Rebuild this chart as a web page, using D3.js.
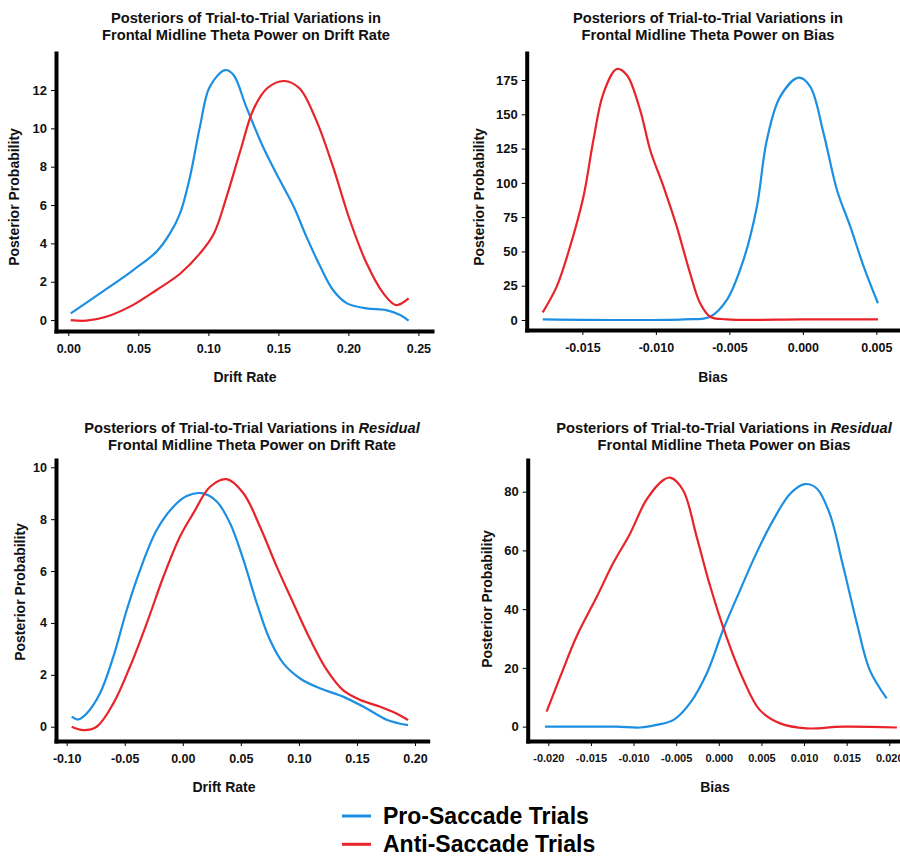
<!DOCTYPE html>
<html>
<head>
<meta charset="utf-8">
<script src="https://cdn.jsdelivr.net/npm/d3@7"></script>
<style>
  body { margin: 0; background: #fff; }
  svg { display: block; font-family: "Liberation Sans", Arial, sans-serif; }
  .axis path, .axis line { stroke: #000; }
  .axis text { font-weight: bold; fill: #111; }
</style>
</head>
<body>
<div id="chart"></div>
<script>
// legend categories
var seriesNames = ["Pro-Saccade Trials", "Anti-Saccade Trials"];
var seriesColors = ["#1c8fe2", "#e8232a"];

// posterior densities: [value, density]
var driftPro = [[0.0017,0.35],[0.0226,1.39],[0.0464,2.61],[0.063,3.57],[0.0726,4.52],[0.0798,5.57],[0.0869,7.48],[0.094,10.09],[0.101,12.17],[0.112,13.04],[0.118,12.78],[0.127,11.13],[0.139,9.04],[0.151,7.30],[0.161,5.91],[0.170,4.35],[0.180,2.78],[0.189,1.57],[0.199,0.87],[0.213,0.61],[0.227,0.52],[0.237,0.26],[0.243,-0.03]];
var driftAnti = [[0.0017,0.0],[0.013,-0.03],[0.027,0.17],[0.046,0.78],[0.063,1.57],[0.080,2.43],[0.094,3.48],[0.104,4.52],[0.113,6.43],[0.123,8.87],[0.132,10.96],[0.142,12.09],[0.154,12.47],[0.165,12.09],[0.177,10.43],[0.189,8.0],[0.201,5.22],[0.213,2.96],[0.225,1.39],[0.234,0.78],[0.243,1.13]];

var biasPro = [[-0.0177,0.5],[-0.0081,0.5],[-0.0063,2.4],[-0.00517,14.6],[-0.00404,43.8],[-0.00313,82.6],[-0.00245,131.3],[-0.00154,162.9],[-0.00029,176.7],[0.0005,170.2],[0.00141,136.1],[0.00232,94.8],[0.00323,68.1],[0.00414,38.9],[0.00511,12.2]];
var biasAnti = [[-0.0177,5.6],[-0.01675,24.3],[-0.01584,53.5],[-0.01493,89.9],[-0.01425,131.3],[-0.01357,165.3],[-0.01266,183.0],[-0.01198,178.7],[-0.01107,153.1],[-0.01039,124.0],[-0.00948,97.2],[-0.00858,68.1],[-0.00767,34.0],[-0.00699,12.2],[-0.00631,2.4],[-0.00517,0.5],[0.0,0.4],[0.00511,0.4]];

var resDriftPro = [[-0.0957,0.39],[-0.09,0.28],[-0.0828,0.51],[-0.0713,1.29],[-0.0598,2.70],[-0.0483,4.50],[-0.0368,6.04],[-0.0225,7.58],[-0.0081,8.48],[0.0034,8.89],[0.0163,9.0],[0.0292,8.68],[0.0407,7.84],[0.0522,6.43],[0.0637,4.76],[0.0751,3.34],[0.0866,2.44],[0.101,1.86],[0.118,1.48],[0.138,1.16],[0.158,0.71],[0.176,0.26],[0.194,0.06]];
var resDriftAnti = [[-0.0957,0.0],[-0.0856,-0.13],[-0.0742,0.0],[-0.0598,0.9],[-0.0455,2.31],[-0.0311,3.98],[-0.0167,5.78],[-0.0024,7.33],[0.0091,8.23],[0.0235,9.25],[0.0378,9.54],[0.0522,9.0],[0.0665,7.71],[0.0809,6.17],[0.0952,4.76],[0.110,3.34],[0.124,2.19],[0.138,1.41],[0.153,1.03],[0.170,0.77],[0.184,0.51],[0.194,0.26]];

var resBiasPro = [[-0.0204,0],[-0.0159,0],[-0.012,0],[-0.0092,-0.3],[-0.0073,0.6],[-0.0053,2.3],[-0.0034,7.9],[-0.0014,18.2],[0.0005,32.9],[0.0025,46.5],[0.0044,59.0],[0.0064,70.4],[0.0084,79.4],[0.0101,82.6],[0.0115,81.1],[0.013,72.6],[0.0146,54.5],[0.0162,35.2],[0.0177,19.3],[0.0197,9.6]];
var resBiasAnti = [[-0.0202,5.1],[-0.0186,17.0],[-0.0167,30.6],[-0.0143,44.3],[-0.0124,55.6],[-0.0104,65.8],[-0.0085,77.2],[-0.0065,84.0],[-0.0057,84.8],[-0.0042,80.6],[-0.0026,64.7],[-0.001,47.7],[0.0009,30.6],[0.0029,15.9],[0.0048,5.7],[0.0072,1.1],[0.0103,-0.6],[0.0146,0],[0.0209,-0.3]];

// tick labels
var driftTicks = [0, 0.05, 0.10, 0.15, 0.20, 0.25];
var driftYTicks = [0, 2, 4, 6, 8, 10, 12];
var biasTicks = [-0.015, -0.010, -0.005, 0, 0.005];
var biasYTicks = [0, 25, 50, 75, 100, 125, 150, 175];
var resDriftTicks = [-0.10, -0.05, 0, 0.05, 0.10, 0.15, 0.20];
var resDriftYTicks = [0, 2, 4, 6, 8, 10];
var resBiasTicks = [-0.020, -0.015, -0.010, -0.005, 0, 0.005, 0.010, 0.015, 0.020];
var resBiasYTicks = [0, 20, 40, 60, 80];

var width = 900, height = 859;

var svg = d3.select("#chart").append("svg")
  .attr("width", width)
  .attr("height", height);

// panel layout (pixel frame of each axis box, and the domain it covers)
var panels = [
  {title: ["Posteriors of Trial-to-Trial Variations in", "Frontal Midline Theta Power on Drift Rate"], italic: false,
   titleX: 246, titleY: 22.5, xLabel: "Drift Rate", xLabelX: 245, xLabelY: 382, yLabelX: 19, yLabelY: 197,
   xr: [56, 432], xd: [-0.0088, 0.2597], yr: [331, 53], yd: [-0.57, 13.93],
   xt: driftTicks, yt: driftYTicks, fmt: 2, xfs: 12.5, yfs: 13, series: [driftPro, driftAnti]},
  {title: ["Posteriors of Trial-to-Trial Variations in", "Frontal Midline Theta Power on Bias"], italic: false,
   titleX: 708, titleY: 22.5, xLabel: "Bias", xLabelX: 713, xLabelY: 382, yLabelX: 484, yLabelY: 197,
   xr: [526.7, 900], xd: [-0.01879, 0.00661], yr: [330, 53], yd: [-7.3, 194.7],
   xt: biasTicks, yt: biasYTicks, fmt: 3, xfs: 12.5, yfs: 13, series: [biasPro, biasAnti]},
  {title: ["Posteriors of Trial-to-Trial Variations in ", "Frontal Midline Theta Power on Drift Rate"], italic: true,
   titleX: 252, titleY: 432.5, xLabel: "Drift Rate", xLabelX: 224, xLabelY: 792, yLabelX: 25, yLabelY: 592,
   xr: [56, 427.7], xd: [-0.1092, 0.2109], yr: [741, 460], yd: [-0.55, 10.28],
   xt: resDriftTicks, yt: resDriftYTicks, fmt: 2, xfs: 12.5, yfs: 12.5, series: [resDriftPro, resDriftAnti]},
  {title: ["Posteriors of Trial-to-Trial Variations in ", "Frontal Midline Theta Power on Bias"], italic: true,
   titleX: 724, titleY: 432.5, xLabel: "Bias", xLabelX: 715, xLabelY: 792, yLabelX: 492, yLabelY: 599,
   xr: [527.7, 900], xd: [-0.02242, 0.02126], yr: [741, 460], yd: [-4.9, 90.8],
   xt: resBiasTicks, yt: resBiasYTicks, fmt: 3, xfs: 11, yfs: 13, series: [resBiasPro, resBiasAnti]}
];

panels.forEach(function(p) {
  var g = svg.append("g");

  var x = d3.scaleLinear().domain(p.xd).range(p.xr);
  var y = d3.scaleLinear().domain(p.yd).range(p.yr);

  // title, two lines; the residual plots have an italic word
  var t1 = g.append("text")
    .attr("x", p.titleX).attr("y", p.titleY)
    .attr("text-anchor", "middle")
    .style("font-size", "14.7px").style("font-weight", "bold").attr("fill", "#111");
  t1.append("tspan").text(p.title[0]);
  if (p.italic) t1.append("tspan").style("font-style", "italic").text("Residual");
  g.append("text")
    .attr("x", p.titleX).attr("y", p.titleY + 17.8)
    .attr("text-anchor", "middle")
    .style("font-size", "14.7px").style("font-weight", "bold").attr("fill", "#111")
    .text(p.title[1]);

  // curves
  var line = d3.line()
    .x(function(d) { return x(d[0]); })
    .y(function(d) { return y(d[1]); })
    .curve(d3.curveCatmullRom.alpha(0.5));

  p.series.forEach(function(s, i) {
    g.append("path")
      .datum(s)
      .attr("fill", "none")
      .attr("stroke", seriesColors[i])
      .attr("stroke-width", 2.2)
      .attr("d", line);
  });

  // axes
  var xa = g.append("g")
    .attr("class", "axis")
    .attr("transform", "translate(0," + p.yr[0] + ")")
    .call(d3.axisBottom(x).tickValues(p.xt).tickSize(5).tickSizeOuter(0).tickPadding(8)
      .tickFormat(function(d) { return d.toFixed(p.fmt); }));
  xa.select(".domain").attr("stroke-width", 4).attr("stroke-linecap", "square");
  xa.selectAll("text").style("font-size", p.xfs + "px");

  var ya = g.append("g")
    .attr("class", "axis")
    .attr("transform", "translate(" + p.xr[0] + ",0)")
    .call(d3.axisLeft(y).tickValues(p.yt).tickSize(5).tickSizeOuter(0).tickPadding(4));
  ya.select(".domain").attr("stroke-width", 4).attr("stroke-linecap", "square");
  ya.selectAll("text").style("font-size", p.yfs + "px");

  // axis titles
  g.append("text")
    .attr("x", p.xLabelX).attr("y", p.xLabelY)
    .attr("text-anchor", "middle")
    .style("font-size", "14px").style("font-weight", "bold").attr("fill", "#111")
    .text(p.xLabel);

  g.append("text")
    .attr("transform", "translate(" + p.yLabelX + "," + p.yLabelY + ") rotate(-90)")
    .attr("text-anchor", "middle")
    .style("font-size", "14px").style("font-weight", "bold").attr("fill", "#111")
    .text("Posterior Probability");
});

// legend at the bottom
var legend = svg.selectAll(".legend")
  .data(seriesNames)
  .enter().append("g")
  .attr("transform", function(d, i) { return "translate(342," + (816 + i * 28.3) + ")"; });

legend.append("line")
  .attr("x1", 0).attr("x2", 29)
  .attr("stroke", function(d, i) { return seriesColors[i]; })
  .attr("stroke-width", 3);

legend.append("text")
  .attr("x", 41).attr("y", 8)
  .style("font-size", "23px").style("font-weight", "bold").attr("fill", "#000")
  .text(function(d) { return d; });
</script>
</body>
</html>
